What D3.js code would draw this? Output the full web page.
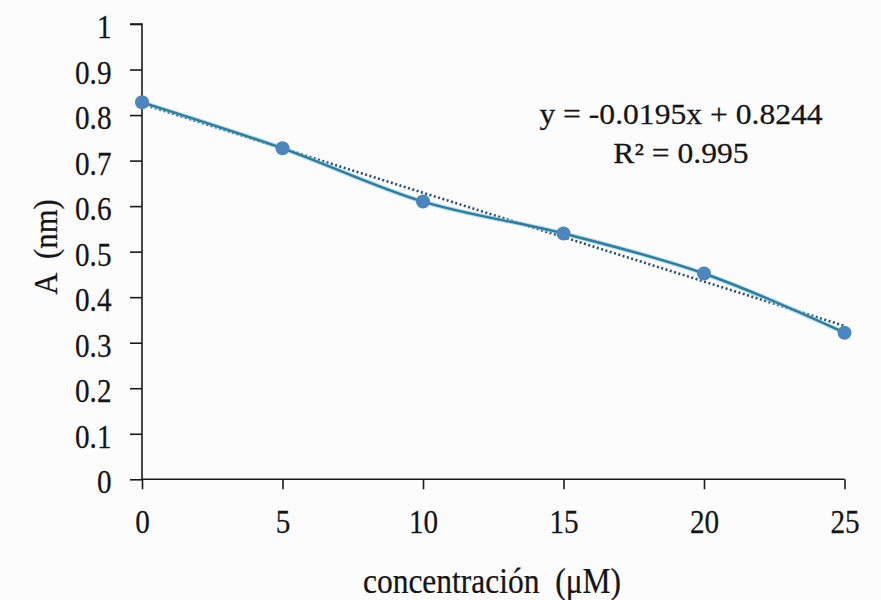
<!DOCTYPE html>
<html>
<head>
<meta charset="utf-8">
<script src="https://cdn.jsdelivr.net/npm/d3@7/dist/d3.min.js"></script>
<style>
  html, body { margin: 0; padding: 0; background: #fcfcfd; }
  svg { display: block; }
  text { font-family: "Liberation Serif", "Times New Roman", serif; fill: #151515; stroke: #151515; stroke-width: 0.25px; }
</style>
</head>
<body>
<svg id="chart" width="881" height="600"></svg>
<script>
// Absorbance vs. concentration
const concentrations = [0, 5, 10, 15, 20, 25];
const absorbance = [0.828, 0.727, 0.610, 0.540, 0.452, 0.322];
const xTicks = [0, 5, 10, 15, 20, 25];
const yTicks = [0, 0.1, 0.2, 0.3, 0.4, 0.5, 0.6, 0.7, 0.8, 0.9, 1];
// Linear fit shown in the equation label
const fitSlope = -0.0195;
const fitIntercept = 0.8244;
const fitR2 = 0.995;

const svg = d3.select("#chart");
const width = 881, height = 600;
const margin = { left: 142, right: 881 - 844.5, top: 24, bottom: 600 - 479.3 };

const x = d3.scaleLinear().domain([0, 25]).range([margin.left, width - margin.right]);
const y = d3.scaleLinear().domain([0, 1]).range([height - margin.bottom, margin.top]);

// Text is set slightly narrow and tall
const sx = 0.86;

// Y axis
const yAxis = svg.append("g")
  .attr("transform", `translate(${x(0)},0)`)
  .call(d3.axisLeft(y).tickValues(yTicks).tickSize(12)
    .tickFormat(d => d3.format("~g")(d)));
yAxis.select(".domain").attr("stroke", "#1a1a1a").attr("stroke-width", 1.6).attr("d", `M-12,${y(1)}H0V${y(0)}`);
yAxis.selectAll(".tick line").attr("stroke", "#1a1a1a").attr("stroke-width", 1.6);
yAxis.selectAll(".tick text")
  .attr("font-size", 34)
  .attr("x", -30.5 / sx).attr("y", 13.5).attr("dy", 0)
  .attr("transform", `scale(${sx},1)`);

// X axis
const xAxis = svg.append("g")
  .attr("transform", `translate(0,${y(0)})`)
  .call(d3.axisBottom(x).tickValues(xTicks).tickSize(10));
xAxis.select(".domain").attr("stroke", "#1a1a1a").attr("stroke-width", 1.6).attr("d", `M${x(0)},0H${x(25)}`);
xAxis.selectAll(".tick line").attr("stroke", "#1a1a1a").attr("stroke-width", 1.6);
xAxis.selectAll(".tick text")
  .attr("font-size", 34)
  .attr("y", 54).attr("dy", 0)
  .attr("transform", `scale(${sx},1)`);

// Axis titles
svg.append("text")
  .attr("transform", "translate(492,593) scale(0.9,1)")
  .attr("text-anchor", "middle").attr("font-size", 35)
  .attr("xml:space", "preserve")
  .text("concentración  (μM)");

svg.append("text")
  .attr("transform", "translate(57,247) rotate(-90) scale(0.93,1)")
  .attr("text-anchor", "middle").attr("font-size", 33)
  .attr("xml:space", "preserve")
  .text("A  (nm)");

// Linear trendline (dotted)
const fitLine = d3.line().x(d => x(d)).y(d => y(fitSlope * d + fitIntercept));
svg.append("path")
  .attr("d", fitLine([0, 25]))
  .attr("fill", "none")
  .attr("stroke", "#2a4f72")
  .attr("stroke-width", 2.6)
  .attr("stroke-dasharray", "2,2.5");

// Smoothed data line
const pts = concentrations.map((c, i) => [c, absorbance[i]]);
const smooth = d3.line().x(d => x(d[0])).y(d => y(d[1])).curve(d3.curveCatmullRom.alpha(0.5));
svg.append("path")
  .attr("d", smooth(pts))
  .attr("fill", "none")
  .attr("stroke", "#8cc6e0")
  .attr("stroke-width", 4.5)
  .attr("stroke-opacity", 0.6);
svg.append("path")
  .attr("d", smooth(pts))
  .attr("fill", "none")
  .attr("stroke", "#2b7f9e")
  .attr("stroke-width", 2.4);

// Markers
svg.selectAll("circle.pt")
  .data(pts)
  .join("circle")
  .attr("class", "pt")
  .attr("cx", d => x(d[0]))
  .attr("cy", d => y(d[1]))
  .attr("r", 7)
  .attr("fill", "#4b86bf");

// Equation label
svg.append("text")
  .attr("transform", "translate(681,124) scale(1.09,1)")
  .attr("text-anchor", "middle").attr("font-size", 29)
  .text(`y = ${fitSlope}x + ${fitIntercept}`);
svg.append("text")
  .attr("transform", "translate(681,163) scale(1.09,1)")
  .attr("text-anchor", "middle").attr("font-size", 29)
  .text(`R² = ${fitR2}`);
</script>
</body>
</html>
